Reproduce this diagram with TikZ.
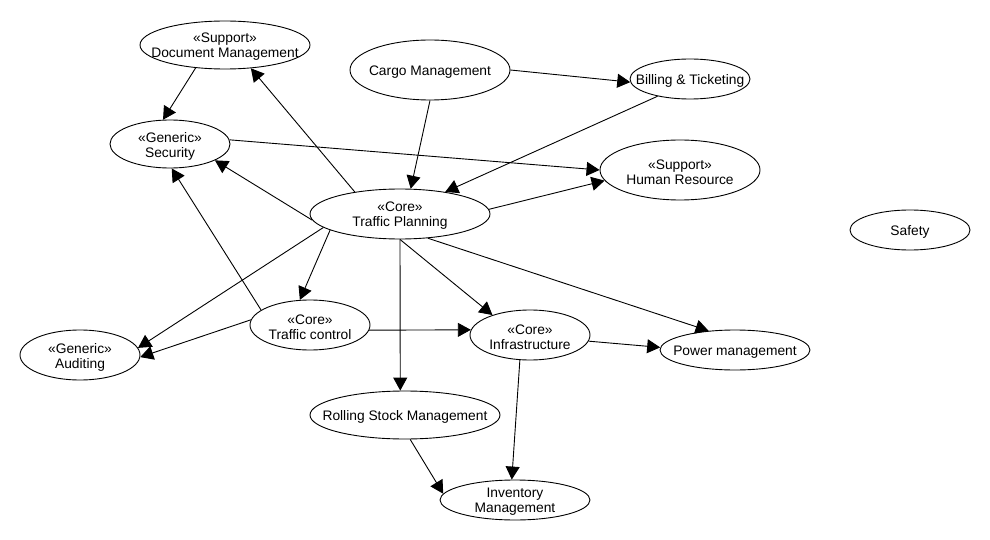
\documentclass[tikz,border=0pt]{standalone}
\usepackage{fontspec}
\setmainfont{Liberation Sans}
\usetikzlibrary{arrows.meta,shapes.geometric}
\begin{document}
\begin{tikzpicture}[x=1pt,y=-1pt,
  ent/.style 2 args={draw, ellipse, line width=0.9pt, minimum width=#1, minimum height=#2, inner sep=0pt},
  lbl/.style={align=center, font=\fontsize{13.8}{15}\selectfont, inner sep=0pt, yshift=-2pt},
  dep/.style={line width=0.9pt, -{Triangle[length=13pt,width=14pt]}}]
\useasboundingbox (0,0) rectangle (990,540);
\fill[white] (0,0) rectangle (990,540);

\node[ent={170pt}{48pt}] (doc) at (225,45) {};
\node[lbl] (docT) at (doc) {«Support»\\Document Management};
\node[ent={120pt}{48pt}] (sec) at (170,144) {};
\node[lbl] (secT) at (sec) {«Generic»\\Security};
\node[ent={160pt}{60pt}] (cargo) at (430,70) {};
\node[lbl] (cargoT) at (cargo) {Cargo Management};
\node[ent={180pt}{50pt}] (tp) at (400,214) {};
\node[lbl] (tpT) at (tp) {«Core»\\Traffic Planning};
\node[ent={120pt}{40pt}] (bill) at (690,79) {};
\node[lbl] (billT) at (bill) {Billing \& Ticketing};
\node[ent={160pt}{60pt}] (hr) at (680,170) {};
\node[lbl] (hrT) at (hr) {«Support»\\Human Resource};
\node[ent={120pt}{40pt}] (safety) at (910,230) {};
\node[lbl] (safetyT) at (safety) {Safety};
\node[ent={120pt}{50pt}] (tc) at (310,325) {};
\node[lbl] (tcT) at (tc) {«Core»\\Traffic control};
\node[ent={120pt}{50pt}] (aud) at (80,355) {};
\node[lbl] (audT) at (aud) {«Generic»\\Auditing};
\node[ent={120pt}{50pt}] (infra) at (530,335) {};
\node[lbl] (infraT) at (infra) {«Core»\\Infrastructure};
\node[ent={150pt}{40pt}] (power) at (735,350) {};
\node[lbl] (powerT) at (power) {Power management};
\node[ent={190pt}{48pt}] (roll) at (405,415) {};
\node[lbl] (rollT) at (roll) {Rolling Stock Management};
\node[ent={150pt}{40pt}] (inv) at (515,500) {};
\node[lbl] (invT) at (inv) {Inventory\\Management};

\draw[dep] (doc.218) -- (sec.106);
\draw[dep] (tp.154) -- (doc.318);
\draw[dep] (sec.4) -- (hr.180);
\draw[dep] (cargo.270) -- (tp.67);
\draw[dep] (cargo.0) -- (bill.183);
\draw[dep] (bill.208) -- (tp.26);
\draw[dep] (tp.184) -- (sec.340);
\draw[dep] (tp.3) -- (hr.188);
\draw[dep] (tp.190) -- (aud.7);
\draw[dep] (tp.193) -- (tc.112);
\draw[dep] (tp.270) -- (roll.101);
\draw[dep] (tp.270) -- (infra.152);
\draw[dep] (tp.319) -- (power.144);
\draw[dep] (tc.163) -- (sec.274);
\draw[dep] (tc.175) -- (aud.358);
\draw[dep] (tc.355) -- (infra.175);
\draw[dep] (infra.354) -- (power.178);
\draw[dep] (infra.248) -- (inv.99);
\draw[dep] (roll.282) -- (inv.175);
\end{tikzpicture}
\end{document}
